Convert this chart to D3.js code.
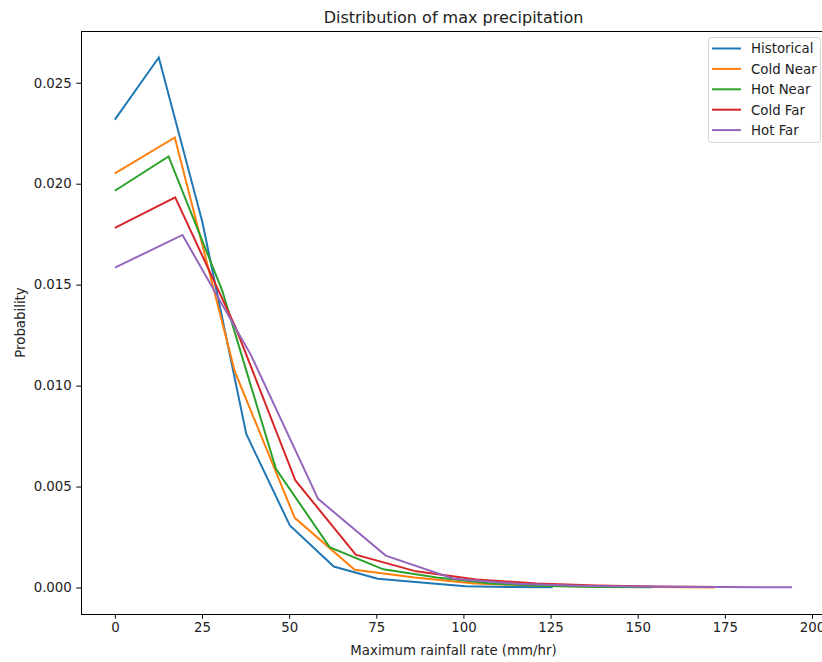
<!DOCTYPE html>
<html>
<head>
<meta charset="utf-8">
<script src="https://d3js.org/d3.v7.min.js"></script>
<style>
body{margin:0;background:#fff;}
svg{display:block;}
</style>
</head>
<body>
<script>
// histogram bins (mm/hr) and probabilities per scenario
var seriesNames=["Historical","Cold Near","Hot Near","Cold Far","Hot Far"];
var colors=["#1f77b4","#ff7f0e","#2ca02c","#d62728","#9467bd"];

var histX=[0,12.6,25.1,37.7,50.2,62.8,75.4,87.9,100.5,113.0,125.6];
var histY=[0.02317,0.02625,0.0181,0.0076,0.00307,0.00104,0.00043,0.00025,0.00006,0.00003,0.00001];

var coldNearX=[0,17.2,34.4,51.6,68.8,86.0,103.2,120.4,137.6,154.8,172.0];
var coldNearY=[0.02051,0.02229,0.0107,0.00345,0.00088,0.0005,0.0002,0.0001,0.00005,0.00002,0.0];

var hotNearX=[0,15.4,30.8,46.2,61.6,77.0,92.4,107.8,123.2,138.6,154.0];
var hotNearY=[0.01965,0.02135,0.0147,0.00588,0.0020,0.0009,0.0005,0.0002,0.00007,0.00002,0.00001];

var coldFarX=[0,17.3,34.6,51.8,69.1,86.4,103.7,121.0,138.2,155.5,172.8];
var coldFarY=[0.01781,0.01932,0.0129,0.0053,0.00163,0.0008,0.0004,0.0002,0.0001,0.00005,0.00002];

var hotFarX=[0,19.4,38.9,58.3,77.7,97.2,116.6,136.0,155.4,174.9,194.3];
var hotFarY=[0.01584,0.01746,0.01156,0.00439,0.00158,0.00043,0.00017,0.00007,0.00004,0.00002,0.00001];

var xTicks=[0,25,50,75,100,125,150,175,200];
var yTicks=[0.000,0.005,0.010,0.015,0.020,0.025];

var drawChart=function()
{
  var width=822;
  var height=662;
  var left=81, right=826, top=31, bottom=614;
  var font="DejaVu Sans, sans-serif";
  var fs=13.33;

  var xs=[histX,coldNearX,hotNearX,coldFarX,hotFarX];
  var ys=[histY,coldNearY,hotNearY,coldFarY,hotFarY];
  var series=seriesNames.map(function(n,i){
    return {name:n,color:colors[i],pts:xs[i].map(function(x,j){return [x,ys[i][j]];})};
  });

  // matplotlib style 5% margins
  var xmax=d3.max(xs,function(a){return d3.max(a);});
  var ymax=d3.max(ys,function(a){return d3.max(a);});
  var x=d3.scaleLinear().domain([-0.05*xmax,1.05*xmax]).range([left,right]);
  var y=d3.scaleLinear().domain([-0.05*ymax,1.05*ymax]).range([bottom,top]);

  var svg=d3.select("body").append("svg")
            .attr("width",width)
            .attr("height",height)
            .style("background-color","#fff");

  var line=d3.line()
             .x(function(d){return x(d[0]);})
             .y(function(d){return y(d[1]);});

  svg.append("g")
     .selectAll("path")
     .data(series)
     .enter()
     .append("path")
     .attr("d",function(d){return line(d.pts);})
     .attr("fill","none")
     .attr("stroke",function(d){return d.color;})
     .attr("stroke-width",2)
     .attr("stroke-linejoin","miter");

  // axes
  var xAxis=svg.append("g")
     .attr("transform","translate(0,"+bottom+")")
     .call(d3.axisBottom(x).tickValues(xTicks).tickSize(4.7).tickPadding(3.5).tickFormat(d3.format("d")));
  var yAxis=svg.append("g")
     .attr("transform","translate("+left+",0)")
     .call(d3.axisLeft(y).tickValues(yTicks).tickSize(4.7).tickPadding(4.5).tickFormat(d3.format(".3f")));
  [xAxis,yAxis].forEach(function(a){
    a.select(".domain").remove();
    a.selectAll("line").attr("stroke","#000").attr("stroke-width",1);
    a.selectAll("text").attr("fill","#222").attr("font-size",fs).attr("font-family",font);
  });

  // frame
  svg.append("rect")
     .attr("x",left+0.5)
     .attr("y",top+0.5)
     .attr("width",right-left)
     .attr("height",bottom-top)
     .attr("fill","none")
     .attr("stroke","#000")
     .attr("stroke-width",1);

  svg.append("text")
     .text("Distribution of max precipitation")
     .attr("x",(left+right)/2)
     .attr("y",23)
     .attr("text-anchor","middle")
     .attr("fill","#222")
     .attr("font-size",16)
     .attr("font-family",font);

  svg.append("text")
     .text("Maximum rainfall rate (mm/hr)")
     .attr("x",(left+right)/2)
     .attr("y",655)
     .attr("text-anchor","middle")
     .attr("fill","#222")
     .attr("font-size",fs)
     .attr("font-family",font);

  svg.append("text")
     .text("Probability")
     .attr("transform","translate(25,"+((top+bottom)/2)+") rotate(-90)")
     .attr("text-anchor","middle")
     .attr("fill","#222")
     .attr("font-size",fs)
     .attr("font-family",font);

  // legend
  var legend=svg.append("g");
  legend.append("rect")
        .attr("x",708.5)
        .attr("y",37.5)
        .attr("width",112)
        .attr("height",105)
        .attr("rx",3)
        .attr("fill","#fff")
        .attr("fill-opacity",0.8)
        .attr("stroke","#d6d6d6")
        .attr("stroke-width",1);
  legend.selectAll("line")
        .data(series)
        .enter()
        .append("line")
        .attr("x1",712)
        .attr("x2",741)
        .attr("y1",function(d,i){return 48.5+i*20.4;})
        .attr("y2",function(d,i){return 48.5+i*20.4;})
        .attr("stroke",function(d){return d.color;})
        .attr("stroke-width",2);
  legend.selectAll("text")
        .data(series)
        .enter()
        .append("text")
        .text(function(d){return d.name;})
        .attr("x",751)
        .attr("y",function(d,i){return 48.5+i*20.4+4.8;})
        .attr("fill","#222")
        .attr("font-size",fs)
        .attr("font-family",font);
};

drawChart();
</script>
</body>
</html>
